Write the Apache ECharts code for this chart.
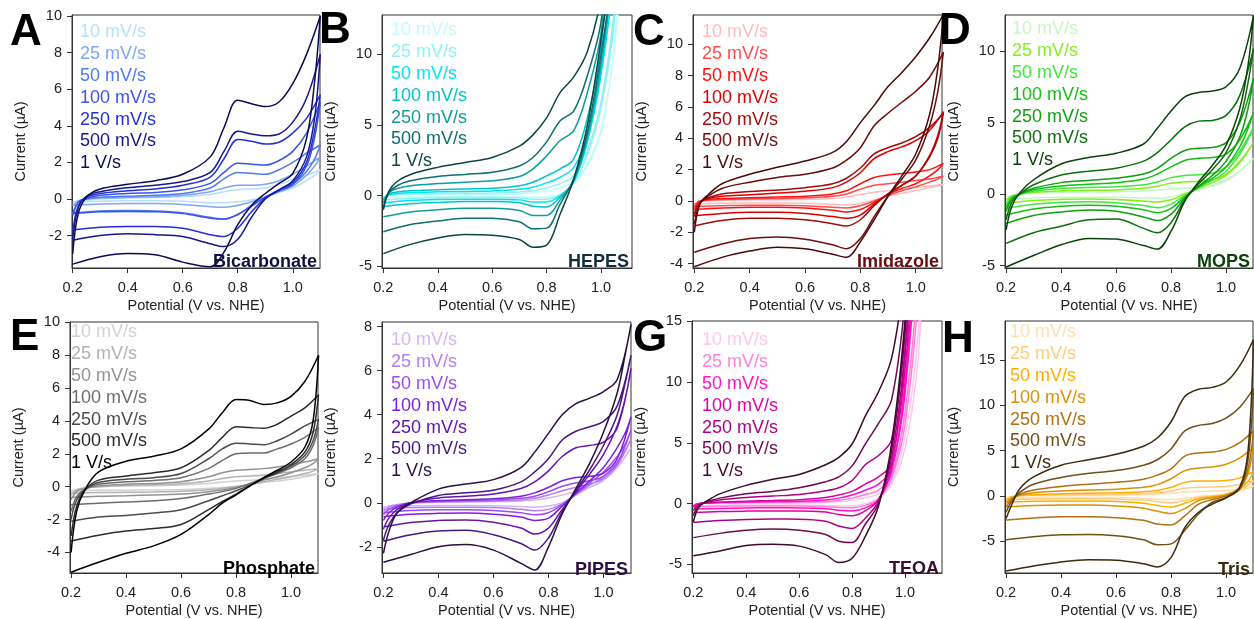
<!DOCTYPE html>
<html>
<head>
<meta charset="utf-8">
<script src="https://cdn.jsdelivr.net/npm/echarts@6.0.0/dist/echarts.min.js"></script>
<style>
html, body { margin: 0; padding: 0; background: #fff; }
#main { width: 1254px; height: 619px; }
</style>
</head>
<body>
<div id="main"></div>
<script>
// potentials (V vs. NHE) sampled on the forward and reverse sweep
const potentialForward = [0.2, 0.22, 0.25, 0.3, 0.4, 0.5, 0.6, 0.7, 0.75, 0.8, 0.85, 0.9, 0.95, 1.0, 1.05, 1.1];
const potentialReverse = [1.1, 1.08, 1.05, 1.0, 0.95, 0.9, 0.85, 0.8, 0.75, 0.7, 0.6, 0.5, 0.4, 0.3, 0.2];
const scanRates = ['10 mV/s', '25 mV/s', '50 mV/s', '100 mV/s', '250 mV/s', '500 mV/s', '1 V/s'];
const potentialTicks = [0.2, 0.4, 0.6, 0.8, 1.0];

// current (uA), one row per scan rate, 10 mV/s first
const bicarbonateForward = [
    [-0.3, -0.1, -0.05, 0.0, 0.05, 0.08, 0.12, 0.25, 0.4, 0.5, 0.55, 0.6, 0.8, 1.05, 1.3, 1.6],
    [-0.4, -0.1, 0.0, 0.05, 0.1, 0.12, 0.2, 0.4, 0.6, 0.75, 0.75, 0.8, 1.0, 1.35, 1.8, 2.3],
    [-0.8, -0.2, 0.0, 0.1, 0.15, 0.2, 0.3, 0.6, 1.1, 1.45, 1.4, 1.35, 1.6, 2.0, 2.5, 2.95],
    [-0.9, -0.2, 0.05, 0.2, 0.3, 0.35, 0.5, 0.85, 1.45, 1.95, 1.9, 1.85, 2.1, 2.6, 3.6, 5.3],
    [-1.8, -0.4, 0.1, 0.3, 0.45, 0.55, 0.75, 1.2, 2.2, 3.25, 3.15, 3.0, 3.1, 3.6, 4.4, 5.7],
    [-2.2, -0.5, 0.15, 0.4, 0.62, 0.75, 0.95, 1.45, 2.6, 3.7, 3.55, 3.45, 3.55, 4.2, 5.5, 7.9],
    [-3.0, -0.8, 0.1, 0.55, 0.8, 1.0, 1.35, 2.3, 3.9, 5.4, 5.2, 5.05, 5.3, 6.3, 7.9, 10.0]
];
const bicarbonateReverse = [
    [1.6, 1.3, 1.0, 0.6, 0.35, 0.1, -0.05, -0.15, -0.2, -0.2, -0.12, -0.1, -0.1, -0.12, -0.15],
    [2.3, 1.8, 1.3, 0.7, 0.4, 0.1, -0.15, -0.35, -0.45, -0.42, -0.3, -0.25, -0.25, -0.28, -0.35],
    [2.95, 2.2, 1.5, 0.8, 0.45, 0.1, -0.35, -0.85, -1.1, -1.0, -0.75, -0.65, -0.63, -0.65, -0.75],
    [5.3, 3.4, 1.8, 0.8, 0.45, 0.1, -0.4, -0.85, -1.1, -1.05, -0.8, -0.7, -0.68, -0.7, -0.8],
    [5.7, 3.8, 2.0, 0.9, 0.5, 0.05, -0.7, -1.6, -2.05, -1.95, -1.6, -1.5, -1.5, -1.55, -1.7],
    [7.9, 4.5, 2.3, 1.0, 0.5, 0.0, -1.0, -2.2, -2.6, -2.45, -2.05, -1.95, -1.9, -2.0, -2.25],
    [10.0, 6.5, 3.3, 1.4, 0.85, 0.3, -0.35, -1.4, -2.9, -3.7, -3.45, -3.05, -2.98, -3.15, -3.56]
];
const bicarbonateTicks = [-2, 0, 2, 4, 6, 8, 10];

const hepesForward = [
    [-0.05, 0.0, 0.04, 0.06, 0.08, 0.09, 0.1, 0.14, 0.2, 0.32, 0.55, 1.0, 2.3, 4.6, 11, 30],
    [-0.1, 0.0, 0.08, 0.12, 0.15, 0.17, 0.19, 0.26, 0.35, 0.55, 0.85, 1.4, 3.2, 6.6, 13.5, 30],
    [-0.2, 0.05, 0.15, 0.22, 0.27, 0.3, 0.33, 0.45, 0.6, 0.9, 1.3, 2.0, 4.3, 9.0, 18, 30],
    [-0.3, 0.1, 0.25, 0.35, 0.42, 0.47, 0.52, 0.7, 0.95, 1.4, 1.9, 2.6, 5.5, 10.5, 22, 30],
    [-0.5, 0.2, 0.5, 0.7, 0.85, 0.95, 1.05, 1.35, 1.9, 2.8, 3.9, 4.6, 7.3, 11.5, 22, 30],
    [-0.8, 0.2, 0.7, 1.05, 1.35, 1.5, 1.65, 2.1, 2.7, 3.8, 5.3, 6.0, 8.5, 12.3, 22, 30],
    [-1.0, 0.3, 1.0, 1.5, 2.0, 2.35, 2.7, 3.5, 4.3, 5.5, 7.3, 8.4, 10.2, 14, 22, 30]
];
const hepesReverse = [
    [30, 18, 10.5, 4.4, 2.1, 0.8, 0.1, -0.1, -0.12, -0.08, -0.06, -0.06, -0.07, -0.1, -0.15],
    [30, 22, 12.5, 6.2, 2.9, 0.9, 0.05, -0.25, -0.25, -0.17, -0.13, -0.13, -0.15, -0.2, -0.3],
    [30, 24, 16, 8.5, 3.8, 1.0, 0.0, -0.45, -0.45, -0.3, -0.25, -0.25, -0.28, -0.35, -0.5],
    [30, 25, 17, 9, 4, 1.0, -0.1, -0.8, -0.75, -0.5, -0.42, -0.42, -0.48, -0.58, -0.78],
    [30, 25, 17, 9.5, 4.2, 1.1, -0.3, -1.4, -1.4, -1.05, -0.9, -0.9, -1.0, -1.15, -1.5],
    [30, 25, 17, 10, 4.5, 1.2, -0.6, -2.3, -2.35, -1.85, -1.6, -1.6, -1.8, -2.05, -2.55],
    [30, 26, 18, 11, 5, 1.2, -1.3, -3.5, -3.65, -3.1, -2.8, -2.75, -3.0, -3.45, -4.1]
];
const hepesTicks = [-5, 0, 5, 10];

const imidazoleForward = [
    [-0.2, 0.0, 0.02, 0.05, 0.07, 0.08, 0.1, 0.15, 0.25, 0.4, 0.55, 0.65, 0.75, 0.85, 0.95, 1.05],
    [-0.3, 0.0, 0.05, 0.1, 0.12, 0.15, 0.2, 0.3, 0.45, 0.75, 1.0, 1.1, 1.2, 1.3, 1.4, 1.6],
    [-0.5, -0.05, 0.1, 0.15, 0.2, 0.25, 0.3, 0.45, 0.65, 1.1, 1.5, 1.65, 1.75, 1.85, 2.0, 2.4],
    [-0.8, -0.1, 0.15, 0.3, 0.4, 0.5, 0.62, 0.85, 1.2, 1.8, 2.7, 3.15, 3.45, 3.85, 4.5, 5.7],
    [-1.0, -0.1, 0.2, 0.45, 0.6, 0.7, 0.85, 1.1, 1.45, 2.1, 3.0, 3.4, 3.7, 4.1, 4.7, 5.6],
    [-1.5, -0.2, 0.3, 0.8, 1.2, 1.5, 1.7, 2.1, 2.6, 3.4, 4.8, 5.6, 6.3, 7.0, 7.9, 9.5],
    [-2.0, -0.2, 0.4, 1.1, 1.7, 2.15, 2.55, 3.1, 3.8, 5.0, 6.1, 7.3, 8.2, 9.2, 10.4, 11.9]
];
const imidazoleReverse = [
    [1.05, 0.95, 0.85, 0.65, 0.5, 0.3, 0.05, -0.15, -0.25, -0.22, -0.15, -0.13, -0.13, -0.15, -0.2],
    [1.6, 1.4, 1.2, 0.9, 0.65, 0.35, 0.0, -0.3, -0.45, -0.4, -0.3, -0.27, -0.27, -0.3, -0.35],
    [2.4, 2.0, 1.6, 1.1, 0.8, 0.4, -0.1, -0.55, -0.7, -0.6, -0.45, -0.4, -0.4, -0.45, -0.55],
    [5.7, 4.2, 2.9, 1.6, 1.0, 0.45, -0.2, -0.9, -1.1, -1.0, -0.8, -0.72, -0.72, -0.8, -0.95],
    [5.6, 4.0, 2.8, 1.6, 1.0, 0.45, -0.3, -1.2, -1.6, -1.45, -1.2, -1.1, -1.1, -1.25, -1.6],
    [9.5, 7.0, 4.8, 2.6, 1.4, 0.3, -1.0, -2.4, -3.05, -2.8, -2.45, -2.3, -2.4, -2.75, -3.28],
    [11.9, 8.5, 5.5, 3.0, 1.6, 0.3, -1.2, -2.6, -3.6, -3.4, -3.05, -2.95, -3.2, -3.6, -4.2]
];
const imidazoleTicks = [-4, -2, 0, 2, 4, 6, 8, 10];

const mopsForward = [
    [-0.25, -0.1, 0.0, 0.06, 0.12, 0.14, 0.16, 0.22, 0.28, 0.36, 0.4, 0.45, 0.55, 0.9, 1.6, 2.5],
    [-0.4, -0.15, 0.0, 0.12, 0.23, 0.26, 0.28, 0.4, 0.55, 0.75, 0.85, 0.9, 1.0, 1.4, 2.3, 3.6],
    [-0.6, -0.2, 0.0, 0.2, 0.4, 0.46, 0.51, 0.65, 0.85, 1.15, 1.3, 1.35, 1.45, 1.9, 3.0, 4.7],
    [-0.9, -0.3, 0.0, 0.3, 0.56, 0.68, 0.79, 1.05, 1.4, 1.9, 2.35, 2.5, 2.55, 2.8, 3.8, 5.7],
    [-1.2, -0.4, 0.0, 0.4, 0.8, 0.95, 1.1, 1.4, 1.8, 2.5, 3.05, 3.2, 3.25, 3.6, 5.0, 8.1],
    [-1.8, -0.6, 0.0, 0.65, 1.33, 1.6, 1.8, 2.3, 2.9, 3.8, 4.7, 5.1, 5.15, 5.5, 6.9, 10.2],
    [-2.5, -0.9, 0.1, 1.0, 2.1, 2.55, 2.85, 3.5, 4.6, 5.8, 6.8, 7.1, 7.2, 7.5, 8.8, 12.5]
];
const mopsReverse = [
    [2.5, 2.1, 1.6, 1.0, 0.6, 0.3, 0.05, -0.2, -0.3, -0.27, -0.22, -0.22, -0.23, -0.28, -0.37],
    [3.6, 3.0, 2.2, 1.3, 0.8, 0.4, 0.0, -0.4, -0.55, -0.48, -0.38, -0.35, -0.37, -0.45, -0.65],
    [4.7, 3.8, 2.8, 1.6, 0.95, 0.45, -0.1, -0.7, -0.95, -0.8, -0.6, -0.54, -0.58, -0.72, -1.0],
    [5.7, 4.6, 3.3, 1.9, 1.1, 0.5, -0.2, -1.0, -1.3, -1.1, -0.85, -0.78, -0.85, -1.05, -1.47],
    [8.1, 6.0, 4.0, 2.3, 1.3, 0.55, -0.3, -1.4, -1.85, -1.6, -1.2, -1.12, -1.25, -1.5, -2.05],
    [10.2, 7.8, 5.2, 2.9, 1.7, 0.7, -0.4, -2.0, -2.7, -2.4, -1.75, -1.8, -2.25, -2.7, -3.45],
    [12.5, 9.0, 6.0, 3.4, 2.0, 0.85, -0.5, -2.6, -3.85, -3.6, -3.15, -3.1, -3.55, -4.3, -5.1]
];
const mopsTicks = [-5, 0, 5, 10];

const phosphateForward = [
    [-0.3, -0.15, -0.05, 0.0, 0.04, 0.06, 0.1, 0.2, 0.28, 0.35, 0.4, 0.45, 0.55, 0.62, 0.7, 0.8],
    [-0.5, -0.2, -0.1, 0.0, 0.08, 0.12, 0.18, 0.35, 0.5, 0.6, 0.65, 0.7, 0.8, 0.9, 1.0, 1.1],
    [-0.8, -0.3, -0.1, 0.05, 0.15, 0.2, 0.3, 0.6, 0.85, 1.0, 1.05, 1.1, 1.2, 1.35, 1.5, 1.7],
    [-1.5, -0.6, -0.15, 0.15, 0.3, 0.38, 0.55, 1.1, 1.6, 2.0, 2.05, 2.05, 2.3, 2.6, 3.0, 3.6],
    [-2.0, -0.8, -0.2, 0.25, 0.45, 0.55, 0.8, 1.7, 2.3, 2.65, 2.6, 2.55, 2.8, 3.2, 3.7, 4.1],
    [-3.0, -1.2, -0.2, 0.4, 0.65, 0.85, 1.15, 2.2, 3.0, 3.65, 3.6, 3.55, 3.8, 4.3, 4.8, 5.6],
    [-4.0, -1.5, -0.2, 0.9, 1.55, 1.85, 2.3, 3.5, 4.5, 5.3, 5.25, 5.0, 5.1, 5.5, 6.4, 8.0]
];
const phosphateReverse = [
    [0.8, 0.7, 0.6, 0.45, 0.35, 0.25, 0.12, 0.03, -0.05, -0.1, -0.17, -0.2, -0.21, -0.22, -0.25],
    [1.1, 0.95, 0.8, 0.6, 0.45, 0.3, 0.12, 0.0, -0.1, -0.18, -0.28, -0.32, -0.34, -0.36, -0.4],
    [1.7, 1.4, 1.15, 0.85, 0.6, 0.4, 0.15, -0.05, -0.2, -0.3, -0.45, -0.5, -0.55, -0.58, -0.65],
    [3.6, 2.5, 1.7, 1.15, 0.8, 0.5, 0.2, -0.1, -0.3, -0.45, -0.72, -0.85, -0.93, -1.0, -1.1],
    [4.1, 2.8, 1.9, 1.25, 0.85, 0.5, 0.1, -0.25, -0.55, -0.85, -1.4, -1.6, -1.75, -1.85, -2.1],
    [5.6, 3.3, 2.1, 1.35, 0.9, 0.5, 0.05, -0.45, -0.9, -1.4, -2.3, -2.55, -2.7, -2.95, -3.3],
    [8.0, 4.0, 2.4, 1.5, 1.0, 0.55, 0.05, -0.5, -1.0, -1.7, -2.9, -3.6, -4.05, -4.6, -5.2]
];
const phosphateTicks = [-4, -2, 0, 2, 4, 6, 8, 10];

const pipesForward = [
    [-0.25, -0.15, -0.08, -0.02, 0.02, 0.03, 0.05, 0.08, 0.12, 0.22, 0.35, 0.5, 0.7, 1.0, 1.6, 2.5],
    [-0.4, -0.2, -0.1, 0.0, 0.04, 0.06, 0.08, 0.13, 0.2, 0.35, 0.55, 0.7, 0.85, 1.1, 1.7, 2.9],
    [-0.55, -0.3, -0.15, 0.0, 0.07, 0.1, 0.12, 0.2, 0.3, 0.5, 0.75, 0.9, 1.0, 1.2, 1.8, 3.3],
    [-0.8, -0.45, -0.2, 0.0, 0.1, 0.14, 0.18, 0.3, 0.45, 0.7, 1.0, 1.15, 1.2, 1.35, 2.0, 3.9],
    [-1.2, -0.7, -0.3, 0.0, 0.22, 0.3, 0.4, 0.65, 0.95, 1.45, 2.1, 2.5, 2.6, 2.75, 3.4, 6.1],
    [-1.7, -1.0, -0.45, -0.05, 0.33, 0.45, 0.57, 0.95, 1.4, 2.0, 2.85, 3.25, 3.45, 3.7, 4.4, 6.7],
    [-2.3, -1.3, -0.45, 0.0, 0.62, 0.85, 1.05, 1.6, 2.3, 3.15, 4.0, 4.5, 4.75, 5.05, 5.6, 8.1]
];
const pipesReverse = [
    [2.5, 2.1, 1.6, 1.05, 0.7, 0.35, 0.0, -0.15, -0.2, -0.17, -0.13, -0.12, -0.12, -0.13, -0.18],
    [2.9, 2.4, 1.85, 1.2, 0.8, 0.38, -0.05, -0.3, -0.36, -0.3, -0.22, -0.2, -0.2, -0.22, -0.3],
    [3.3, 2.7, 2.1, 1.4, 0.9, 0.4, -0.1, -0.45, -0.55, -0.45, -0.35, -0.32, -0.32, -0.35, -0.45],
    [3.9, 3.2, 2.5, 1.6, 1.0, 0.45, -0.15, -0.7, -0.8, -0.65, -0.52, -0.47, -0.48, -0.52, -0.63],
    [6.1, 4.8, 3.5, 2.2, 1.3, 0.5, -0.3, -1.15, -1.42, -1.15, -0.88, -0.78, -0.8, -0.9, -1.1],
    [6.7, 5.5, 4.0, 2.6, 1.5, 0.55, -0.4, -1.6, -2.15, -1.85, -1.45, -1.25, -1.28, -1.45, -1.75],
    [8.1, 6.8, 5.0, 3.2, 1.8, 0.65, -0.5, -2.0, -3.05, -2.75, -2.15, -1.9, -2.0, -2.35, -2.7]
];
const pipesTicks = [-2, 0, 2, 4, 6, 8];

const teoaForward = [
    [-0.1, 0.0, 0.02, 0.03, 0.04, 0.05, 0.06, 0.1, 0.15, 0.28, 0.5, 0.8, 1.8, 5.5, 14, 35],
    [-0.15, 0.0, 0.03, 0.05, 0.08, 0.1, 0.12, 0.18, 0.27, 0.45, 0.75, 1.1, 2.4, 7.5, 19, 40],
    [-0.2, 0.0, 0.05, 0.1, 0.14, 0.17, 0.2, 0.3, 0.45, 0.7, 1.1, 1.6, 2.9, 10, 25, 45],
    [-0.3, -0.05, 0.05, 0.12, 0.2, 0.25, 0.32, 0.5, 0.7, 1.0, 1.6, 2.2, 3.3, 12.5, 28, 45],
    [-0.6, -0.1, 0.1, 0.3, 0.5, 0.62, 0.75, 1.05, 1.3, 1.9, 3.2, 3.95, 5.3, 14.5, 30, 45],
    [-1.0, -0.2, 0.15, 0.45, 0.8, 1.0, 1.3, 1.8, 2.2, 3.1, 4.9, 6.6, 8.6, 16.5, 30, 45],
    [-1.5, -0.3, 0.2, 0.8, 1.5, 2.0, 2.4, 3.2, 3.8, 4.9, 7.2, 9.2, 12.0, 19, 30, 45]
];
const teoaReverse = [
    [35, 26, 12, 4.5, 1.6, 0.4, 0.0, -0.2, -0.2, -0.15, -0.12, -0.12, -0.12, -0.13, -0.17],
    [40, 30, 17, 6.5, 2.1, 0.4, -0.15, -0.35, -0.33, -0.25, -0.2, -0.2, -0.2, -0.22, -0.28],
    [45, 35, 23, 9, 2.7, 0.35, -0.35, -0.6, -0.55, -0.42, -0.36, -0.35, -0.36, -0.4, -0.45],
    [45, 38, 26, 11, 3.2, 0.3, -0.6, -1.0, -0.9, -0.7, -0.6, -0.6, -0.62, -0.66, -0.74],
    [45, 40, 28, 12.5, 3.8, 0.2, -1.2, -2.05, -1.85, -1.45, -1.28, -1.27, -1.3, -1.4, -1.55],
    [45, 40, 30, 14, 4.4, 0.0, -1.7, -3.2, -3.1, -2.55, -2.2, -2.1, -2.2, -2.45, -2.8],
    [45, 40, 30, 15, 5, -0.2, -2.7, -4.5, -4.85, -4.2, -3.5, -3.35, -3.45, -3.9, -4.3]
];
const teoaTicks = [-5, 0, 5, 10, 15];

const trisForward = [
    [-0.2, -0.05, 0.02, 0.04, 0.06, 0.07, 0.08, 0.12, 0.18, 0.3, 0.45, 0.5, 0.55, 0.6, 0.8, 1.1],
    [-0.35, -0.1, 0.03, 0.08, 0.13, 0.16, 0.18, 0.25, 0.35, 0.55, 0.85, 0.95, 1.0, 1.05, 1.3, 1.7],
    [-0.5, -0.15, 0.05, 0.15, 0.25, 0.3, 0.35, 0.45, 0.6, 0.95, 1.5, 1.65, 1.65, 1.7, 2.0, 2.7],
    [-0.8, -0.25, 0.1, 0.35, 0.55, 0.65, 0.75, 0.95, 1.25, 1.9, 2.8, 3.1, 3.2, 3.5, 4.2, 5.4],
    [-1.2, -0.4, 0.2, 0.65, 1.05, 1.3, 1.5, 1.85, 2.3, 3.0, 4.4, 4.75, 4.85, 5.15, 5.9, 7.2],
    [-1.8, -0.6, 0.4, 1.3, 2.05, 2.5, 2.8, 3.4, 4.0, 5.2, 7.2, 7.8, 8.0, 8.6, 9.8, 11.9],
    [-2.5, -1.0, 0.8, 2.1, 3.4, 4.0, 4.6, 5.5, 6.4, 8.2, 11.0, 11.8, 12.0, 12.6, 14.4, 17.3]
];
const trisReverse = [
    [1.1, 0.85, 0.55, 0.2, 0.05, -0.05, -0.25, -0.4, -0.35, -0.25, -0.18, -0.17, -0.17, -0.18, -0.22],
    [1.7, 1.2, 0.7, 0.2, 0.0, -0.15, -0.5, -0.75, -0.62, -0.45, -0.35, -0.32, -0.32, -0.35, -0.4],
    [2.7, 1.6, 0.8, 0.15, -0.1, -0.3, -0.8, -1.25, -1.05, -0.8, -0.62, -0.57, -0.57, -0.6, -0.7],
    [5.4, 2.5, 0.9, 0.1, -0.2, -0.5, -1.4, -1.95, -1.7, -1.35, -1.1, -1.0, -1.0, -1.05, -1.2],
    [7.2, 3.0, 0.8, 0.0, -0.4, -0.9, -2.2, -3.2, -3.1, -2.7, -2.4, -2.3, -2.3, -2.45, -2.65],
    [11.9, 4.0, 0.8, -0.2, -0.7, -2.0, -3.8, -5.3, -5.4, -4.85, -4.4, -4.25, -4.3, -4.5, -4.85],
    [17.3, 5.0, 1.0, -0.2, -0.9, -1.8, -3.5, -6.8, -7.85, -7.5, -7.1, -7.05, -7.3, -7.75, -8.3]
];
const trisTicks = [-5, 0, 5, 10, 15];

const FONT = "'Liberation Sans', Arial, Helvetica, sans-serif";

// layout: plot box [left, top, right, bottom] in px, axis ranges, palette light -> dark
let panels = [
    { letter: 'A', name: 'Bicarbonate', fwd: bicarbonateForward, rev: bicarbonateReverse, ticks: bicarbonateTicks,
      box: [72, 15, 320, 268], x: [0.1975, 1.099], y: [-3.77, 10.05], legend: [80, 32], letterPos: [10, 33],
      colors: ['#b6e0fb', '#7ea6f4', '#4f78f2', '#3a52ee', '#2230d6', '#16168f', '#0c0c55'], labelColor: '#101040' },
    { letter: 'B', name: 'HEPES', fwd: hepesForward, rev: hepesReverse, ticks: hepesTicks,
      box: [382, 15, 632, 268], x: [0.195, 1.114], y: [-5.12, 12.78], legend: [391, 30], letterPos: [319, 31],
      colors: ['#c4fbfb', '#8ef2f2', '#00e6ee', '#00c4cc', '#119c9c', '#0f6e6e', '#0b4545'], labelColor: '#0e2e3e' },
    { letter: 'C', name: 'Imidazole', fwd: imidazoleForward, rev: imidazoleReverse, ticks: imidazoleTicks,
      box: [693, 15, 942, 268], x: [0.1953, 1.095], y: [-4.28, 11.87], legend: [702, 32], letterPos: [633, 33],
      colors: ['#ffbcbc', '#ff4c4c', '#ff0e0e', '#dc0000', '#a00c0c', '#6e0c0c', '#4a0a0a'], labelColor: '#6a0a0a' },
    { letter: 'D', name: 'MOPS', fwd: mopsForward, rev: mopsReverse, ticks: mopsTicks,
      box: [1005, 15, 1253, 268], x: [0.196, 1.098], y: [-5.17, 12.52], legend: [1012, 29], letterPos: [939, 32],
      colors: ['#c6f7c6', '#86ee1a', '#3fe83f', '#12c012', '#0f9e0f', '#0c6e0c', '#0a420a'], labelColor: '#0a420a' },
    { letter: 'E', name: 'Phosphate', fwd: phosphateForward, rev: phosphateReverse, ticks: phosphateTicks,
      box: [70, 322, 318, 575], x: [0.196, 1.098], y: [-5.25, 10.02], legend: [71, 332], letterPos: [10, 338],
      colors: ['#d2d2d2', '#b2b2b2', '#929292', '#6e6e6e', '#4c4c4c', '#2c2c2c', '#000000'], labelColor: '#000000' },
    { letter: '', name: 'PIPES', fwd: pipesForward, rev: pipesReverse, ticks: pipesTicks,
      box: [382, 322, 631, 576], x: [0.195, 1.1], y: [-3.19, 8.21], legend: [391, 340], letterPos: [319, 338],
      colors: ['#d6b6f2', '#b67cf2', '#9c4cf0', '#7e1ee0', '#6614b0', '#48187e', '#2a1040'], labelColor: '#2a1040' },
    { letter: 'G', name: 'TEOA', fwd: teoaForward, rev: teoaReverse, ticks: teoaTicks,
      box: [692, 321, 942, 575], x: [0.195, 1.14], y: [-5.71, 15.02], legend: [702, 340], letterPos: [633, 339],
      colors: ['#ffc6ec', '#ff7ed8', '#ff12c6', '#de00a6', '#ae0086', '#6e0a50', '#3e0a2e'], labelColor: '#3e0a2e' },
    { letter: 'H', name: 'Tris', fwd: trisForward, rev: trisReverse, ticks: trisTicks,
      box: [1005, 321, 1253, 576], x: [0.196, 1.098], y: [-8.52, 19.34], legend: [1010, 332], letterPos: [942, 340],
      colors: ['#ffdfae', '#ffcc7a', '#ffae00', '#de9000', '#b07010', '#705014', '#3c2a0a'], labelColor: '#3c2a0a' }
];

let chart = echarts.init(document.getElementById('main'), null, { renderer: 'canvas' });

let grids = [], xAxes = [], yAxes = [], series = [], graphics = [];
panels.forEach((p, k) => {
    let [l, t, r, b] = p.box;
    grids.push({ left: l, top: t, width: r - l, height: b - t, show: true, borderColor: '#333', borderWidth: 1, backgroundColor: 'transparent' });
    xAxes.push({
        gridIndex: k, type: 'value', min: p.x[0], max: p.x[1],
        name: 'Potential (V vs. NHE)', nameLocation: 'middle', nameGap: 30,
        nameTextStyle: { fontSize: 14.5, color: '#222', fontFamily: FONT },
        axisLine: { show: true, onZero: false, lineStyle: { color: '#333', width: 1 } },
        axisTick: { show: true, length: 5, customValues: potentialTicks, lineStyle: { color: '#333' } },
        axisLabel: { customValues: potentialTicks, formatter: v => v.toFixed(1), fontSize: 14.5, color: '#222', fontFamily: FONT, margin: 12 },
        splitLine: { show: false }
    });
    yAxes.push({
        gridIndex: k, type: 'value', min: p.y[0], max: p.y[1],
        name: 'Current (µA)', nameLocation: 'middle', nameGap: 44,
        nameTextStyle: { fontSize: 14.5, color: '#222', fontFamily: FONT },
        axisLine: { show: true, onZero: false, lineStyle: { color: '#333', width: 1 } },
        axisTick: { show: true, length: 5, customValues: p.ticks, lineStyle: { color: '#333' } },
        axisLabel: { customValues: p.ticks, formatter: v => String(v), fontSize: 14.5, color: '#222', fontFamily: FONT, margin: 10 },
        splitLine: { show: false }
    });
    p.fwd.forEach((row, i) => {
        let loop = potentialForward.map((x, j) => [x, row[j]]);
        potentialReverse.forEach((x, j) => {
            if (j > 0) loop.push([x, p.rev[i][j]]);
        });
        series.push({
            type: 'line', xAxisIndex: k, yAxisIndex: k, data: loop,
            showSymbol: false, smooth: 0.35, clip: true, silent: true,
            lineStyle: { color: p.colors[i], width: 1.5 }
        });
    });
    // scan-rate legend written as coloured text
    scanRates.forEach((s, i) => {
        graphics.push({ type: 'text', z: 100, style: { text: s, x: p.legend[0], y: p.legend[1] + i * 21.9,
            fill: p.colors[i], font: '18px ' + FONT, verticalAlign: 'middle', align: 'left' } });
    });
    graphics.push({ type: 'text', z: 100, style: { text: p.name, x: r - 3, y: b - 6,
        fill: p.labelColor, font: 'bold 18px ' + FONT, verticalAlign: 'middle', align: 'right' } });
    if (p.letter) {
        graphics.push({ type: 'text', z: 100, style: { text: p.letter, x: p.letterPos[0], y: p.letterPos[1],
            fill: '#000', font: 'bold 44px ' + FONT, verticalAlign: 'middle', align: 'left' } });
    }
});

chart.setOption({
    animation: false,
    backgroundColor: '#fff',
    grid: grids,
    xAxis: xAxes,
    yAxis: yAxes,
    series: series,
    graphic: graphics
});
</script>
</body>
</html>
